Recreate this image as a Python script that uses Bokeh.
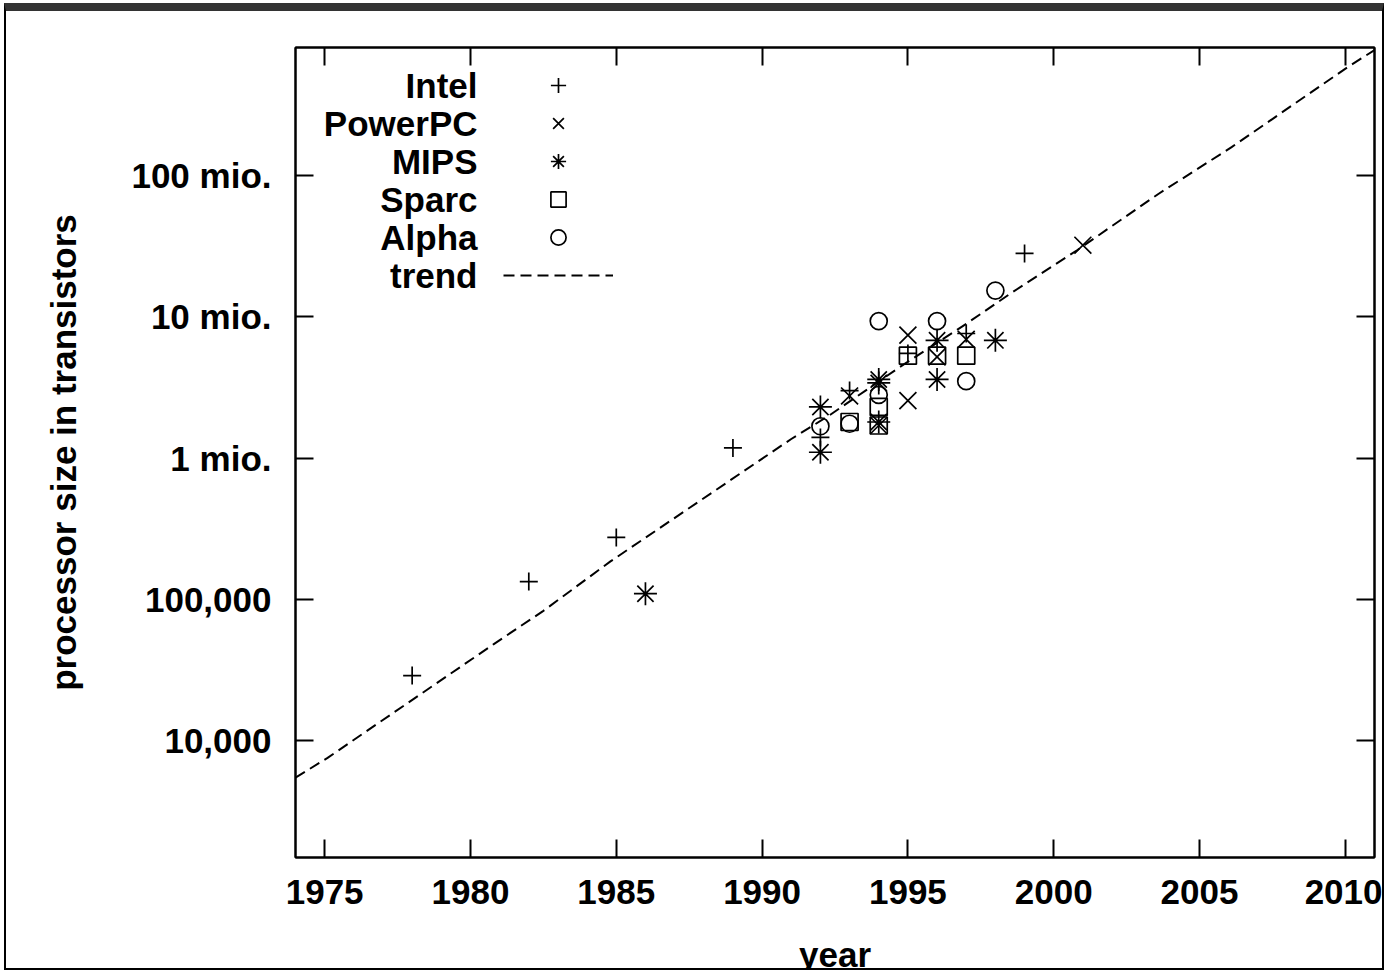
from bokeh.plotting import figure
from bokeh.models import (Range1d, FixedTicker, LinearAxis, LogAxis, Legend,
                          LegendItem, Label)
from bokeh.core.properties import value
from bokeh.embed import file_html
from bokeh.resources import INLINE

# ---------------- data ----------------
intel_years = [1978, 1982, 1985, 1989, 1992, 1993, 1995, 1997, 1999]
intel_values = [29000, 134000, 275000, 1180000, 1400000, 3000000, 5500000,
                7600000, 28000000]

powerpc_years = [1993, 1994, 1995, 1995, 1996, 1997, 2001]
powerpc_values = [2750000, 1700000, 7400000, 2550000, 5200000, 6900000,
                  32000000]

mips_years = [1986, 1992, 1992, 1994, 1994, 1994, 1996, 1996, 1998]
mips_values = [110000, 2300000, 1100000, 3600000, 3400000, 1800000, 6800000,
               3600000, 6800000]

sparc_years = [1993, 1994, 1994, 1995, 1996, 1997]
sparc_values = [1800000, 2300000, 1700000, 5300000, 5300000, 5300000]

alpha_years = [1992, 1993, 1994, 1994, 1996, 1997, 1998]
alpha_values = [1680000, 1750000, 9300000, 2800000, 9300000, 3500000,
                15300000]

trend_years = [1974.0, 1975.1, 1980.8, 1982.5, 1984.8, 1991.0, 1992.3,
               1994.7, 1997.0, 1998.5, 2000.8, 2003.6, 2006.1, 2010.1, 2011.0]
trend_values = [5500, 7600, 48400, 83200, 186000, 1365000, 2000000, 4370000,
                8900000, 14500000, 29500000, 74000000, 158000000, 585000000,
                767000000]

series_names = ["Intel", "PowerPC", "MIPS", "Sparc", "Alpha", "trend"]

x_ticks = [1975, 1980, 1985, 1990, 1995, 2000, 2005, 2010]
y_ticks = [10000, 100000, 1000000, 10000000, 100000000]
y_tick_labels = ["10,000", "100,000", "1 mio.", "10 mio.", "100 mio."]

x_title = "year"
y_title = "processor size in transistors"

# ---------------- figure ----------------
FONT = "Liberation Sans"
FS = "35px"

p = figure(width=1380, height=967, y_axis_type="log",
           x_range=Range1d(1974, 2011), y_range=Range1d(1500, 8e8),
           output_backend="svg", toolbar_location=None,
           min_border_left=289, min_border_right=12,
           min_border_top=36, min_border_bottom=121,
           background_fill_color="white", border_fill_color="white")

p.styles = {"margin-top": "3px", "margin-left": "4px",
            "border-top": "8px solid #333333",
            "border-left": "2px solid black",
            "border-right": "2px solid black",
            "border-bottom": "2px solid black"}

p.xgrid.visible = False
p.ygrid.visible = False
p.outline_line_color = "black"
p.outline_line_width = 2

top_axis = LinearAxis()
right_axis = LogAxis()
p.add_layout(top_axis, "above")
p.add_layout(right_axis, "right")

for ax in p.xaxis:
    ax.ticker = FixedTicker(ticks=x_ticks)
for ax in p.yaxis:
    ax.ticker = FixedTicker(ticks=y_ticks)
    ax.major_label_overrides = {t: l for t, l in zip(y_ticks, y_tick_labels)}

for ax in p.axis:
    ax.axis_line_color = "black"
    ax.axis_line_width = 2
    ax.major_tick_line_color = "black"
    ax.major_tick_line_width = 2
    ax.major_tick_in = 18
    ax.major_tick_out = 0
    ax.minor_tick_line_color = None
    ax.major_label_text_font = FONT
    ax.major_label_text_font_style = "bold"
    ax.major_label_text_font_size = FS
    ax.major_label_text_color = "black"
    ax.axis_label_text_font = FONT
    ax.axis_label_text_font_style = "bold"
    ax.axis_label_text_font_size = FS
    ax.axis_label_text_color = "black"

# mirrored tick marks on top and right, without labels
for ax in (top_axis, right_axis):
    ax.major_label_text_color = None
    ax.major_label_text_font_size = "1px"
    ax.major_label_standoff = 0

bottom_axis = p.below[0]
left_axis = p.left[0]
bottom_axis.axis_label = x_title
bottom_axis.major_label_standoff = 22
bottom_axis.axis_label_standoff = 28
left_axis.axis_label = y_title
left_axis.major_label_standoff = 24
left_axis.axis_label_standoff = 45

# ---------------- data marks ----------------
mk = dict(line_color="black", line_width=1.7, fill_color=None)
r_intel = p.scatter(intel_years, intel_values, marker="cross", size=18, **mk)
r_ppc = p.scatter(powerpc_years, powerpc_values, marker="x", size=24, **mk)
r_mips = p.scatter(mips_years, mips_values, marker="asterisk", size=23, **mk)
r_sparc = p.scatter(sparc_years, sparc_values, marker="square", size=17, **mk)
r_alpha = p.scatter(alpha_years, alpha_values, marker="circle", size=17, **mk)
r_trend = p.line(trend_years, trend_values, line_color="black",
                 line_width=2, line_dash="11 6")

# ---------------- legend: symbols only; names drawn right-aligned to their left ----------------
renderers = [r_intel, r_ppc, r_mips, r_sparc, r_alpha, r_trend]
legend = Legend(items=[LegendItem(label=value(" "), renderers=[r])
                       for r in renderers],
                location=(208, 563), orientation="vertical",
                glyph_width=110, glyph_height=38, spacing=0, padding=0,
                margin=0, label_standoff=0, label_width=0, label_height=0,
                label_text_font_size="10px", label_text_color=None,
                border_line_color=None, background_fill_alpha=0)
p.add_layout(legend)

for i, name in enumerate(series_names):
    p.add_layout(Label(x=182, y=772 - 38 * i, x_units="screen",
                       y_units="screen", text=name, text_align="right",
                       text_baseline="middle", text_font=FONT,
                       text_font_style="bold", text_font_size=FS,
                       text_color="black"))

open("out.html", "w").write(file_html(p, INLINE))
